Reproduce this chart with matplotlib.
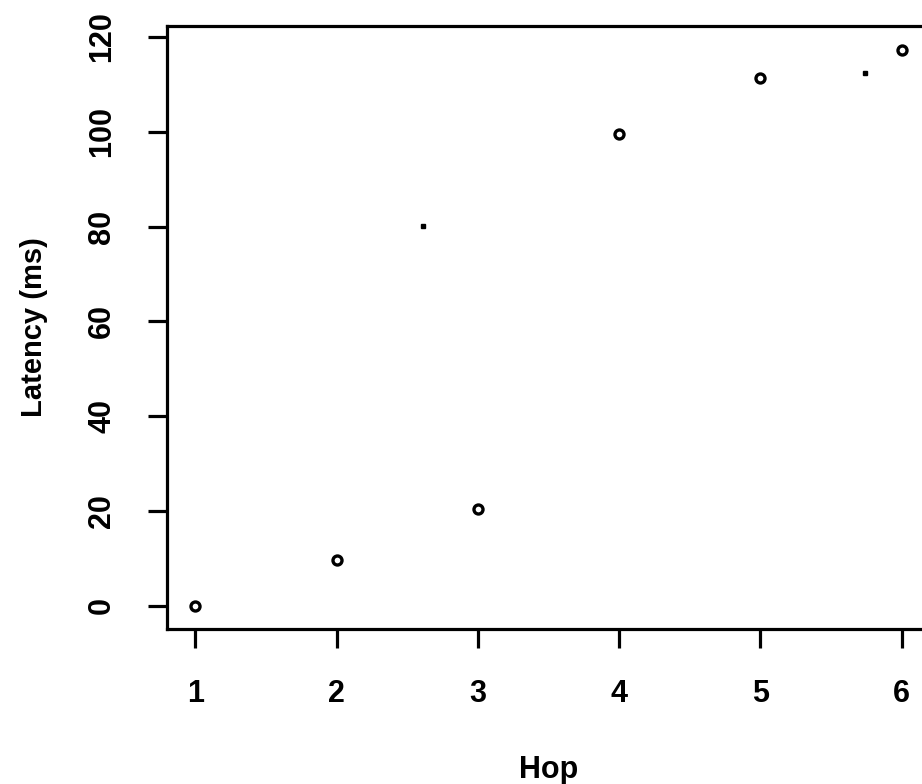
import matplotlib
matplotlib.use("Agg")
import matplotlib.pyplot as plt

hops = [1, 2, 3, 4, 5, 6]
latency = [0, 9.7, 20.5, 99.5, 111.4, 117.2]
specks_x = [2.61, 5.74]
specks_y = [80.1, 112.4]
xticks = [1, 2, 3, 4, 5, 6]
yticks = [0, 20, 40, 60, 80, 100, 120]

plt.rcParams['font.family'] = ['Liberation Sans', 'DejaVu Sans']

fig = plt.figure(figsize=(9.22, 7.84), dpi=100)
ax = fig.add_axes([167/922, 1-629/784, (930-167)/922, (629-26)/784])

ax.plot(hops, latency, linestyle='none', marker='o', markersize=6.5,
        markerfacecolor='white', markeredgecolor='black', markeredgewidth=2.4)
ax.plot(specks_x, specks_y, linestyle='none', marker='s', markersize=2.2,
        color='black')

ax.set_xlim(0.8, 6.2)
ax.set_ylim(-4.85, 122.3)
ax.set_xticks(xticks)
ax.set_yticks(yticks)
ax.set_xticklabels([str(v) for v in xticks], fontweight='bold')
ax.set_yticklabels([str(v) for v in yticks], rotation=90, va='center',
                   fontweight='bold')

for s in ax.spines.values():
    s.set_linewidth(2.3)
ax.tick_params(axis='both', length=14, width=2.3, labelsize=22)
ax.tick_params(axis='x', pad=22)
ax.tick_params(axis='y', pad=22)

ax.set_xlabel('Hop', fontsize=22, fontweight='bold', labelpad=33)
ax.set_ylabel('Latency (ms)', fontsize=21, fontweight='bold', labelpad=28)

fig.savefig('out.png', dpi=100)
